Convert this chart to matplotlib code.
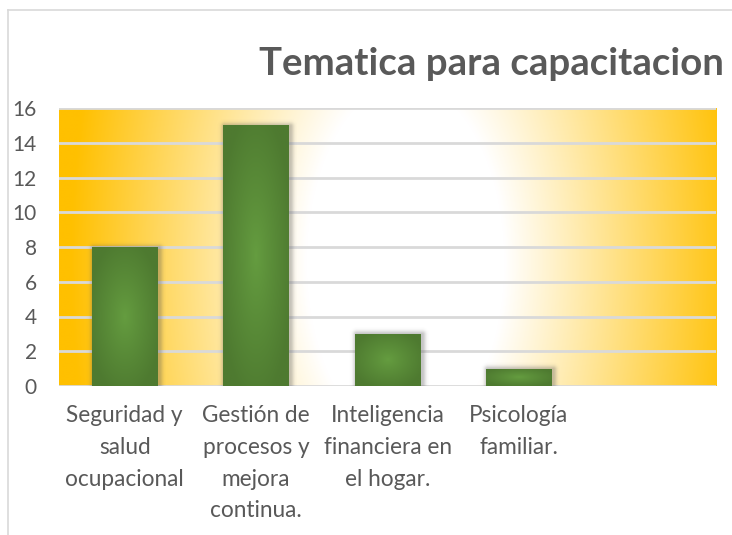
import numpy as np
import matplotlib
matplotlib.use("Agg")
import matplotlib.pyplot as plt
from matplotlib.lines import Line2D

# ---- data ----
categories = ["Seguridad y\nsalud\nocupacional",
              "Gestión de\nprocesos y\nmejora\ncontinua.",
              "Inteligencia\nfinanciera en\nel hogar.",
              "Psicología\nfamiliar."]
values = [8, 15, 3, 1]
yticks = [0, 2, 4, 6, 8, 10, 12, 14, 16]
title = "Tematica para capacitacion"
n_slots = 5  # chart has room for a fifth (empty) category

W, H = 732, 535
fig = plt.figure(figsize=(W / 100, H / 100), dpi=100)
fig.patch.set_facecolor("white")

# outer chart frame
fig.add_artist(Line2D([8 / W, 8 / W], [0, 1 - 10 / H], color="#d9d9d9", lw=1.2, transform=fig.transFigure))
fig.add_artist(Line2D([8 / W, 1], [1 - 10 / H, 1 - 10 / H], color="#d9d9d9", lw=1.2, transform=fig.transFigure))

L, R, T, B = 59, 716, 108, 386
ax = fig.add_axes([L / W, 1 - B / H, (R - L) / W, (B - T) / H])
ax.set_xlim(-0.5, n_slots - 0.5)
ax.set_ylim(0, 16)
for s in ax.spines.values():
    s.set_visible(False)

# background radial gradient (white center -> gold edges), computed in pixels
pw, ph = R - L, B - T
xx, yy = np.meshgrid(np.linspace(0, pw, 660), np.linspace(0, ph, 280))
cxp, cyp = 405 - L, B - 262
d = np.sqrt(((xx - cxp) / 310) ** 2 + ((yy - cyp) / 560) ** 2)
t = np.clip((d - 0.32) / (1.08 - 0.32), 0, 1)
white = np.array([1.0, 1.0, 1.0])
gold = np.array([255, 192, 0]) / 255
bg = white[None, None, :] * (1 - t[..., None]) + gold[None, None, :] * t[..., None]
ax.imshow(bg, extent=(0, 1, 0, 1), transform=ax.transAxes, aspect="auto",
          origin="lower", zorder=0, interpolation="bilinear")

# gridlines
ax.set_yticks(yticks)
ax.yaxis.grid(True, color="#d9d9d9", lw=2.0, zorder=1)
ax.set_axisbelow(True)

# bars
x = np.arange(len(values))
bars = ax.bar(x, values, width=0.5, color="#548235", zorder=3, linewidth=0)

px_x = pw / n_slots
px_y = ph / 16

for b in bars:
    bx, by, bw, bh = b.get_x(), b.get_y(), b.get_width(), b.get_height()
    # soft shadow
    pad = 8
    wpx, hpx = bw * px_x, bh * px_y
    sx = np.linspace(-pad, wpx + pad, int(wpx + 2 * pad) * 2)
    sy = np.linspace(-pad, hpx + pad, int(hpx + 2 * pad) * 2)
    SX, SY = np.meshgrid(sx, sy)
    ox, oy = 1.5, -1.0
    dx = np.maximum(np.maximum(0 - (SX - ox), (SX - ox) - wpx), 0)
    dy = np.maximum(np.maximum(0 - (SY - oy), (SY - oy) - hpx), 0)
    dist = np.sqrt(dx ** 2 + dy ** 2)
    alpha = 0.35 * np.exp(-(dist / 3.5) ** 2)
    sh = np.zeros(SX.shape + (4,))
    sh[..., :3] = 0.35
    sh[..., 3] = alpha
    ax.imshow(sh, extent=(bx - pad / px_x, bx + bw + pad / px_x, by - pad / px_y, by + bh + pad / px_y),
              origin="lower", aspect="auto", zorder=2.5, interpolation="bilinear")
    # inner elliptical gradient fitted to the bar
    gx, gy = np.meshgrid(np.linspace(-1, 1, 80), np.linspace(-1, 1, 200))
    r = np.clip(np.sqrt(gx ** 2 + gy ** 2) / 1.15, 0, 1) ** 0.9
    c_in = np.array([101, 157, 64]) / 255
    c_out = np.array([78, 122, 48]) / 255
    img = c_in[None, None, :] * (1 - r[..., None]) + c_out[None, None, :] * r[..., None]
    im = ax.imshow(img, extent=(bx, bx + bw, by, by + bh), origin="lower",
                   aspect="auto", zorder=3.5, interpolation="bilinear")
    im.set_clip_path(b)

ax.set_xlim(-0.5, n_slots - 0.5)
ax.set_ylim(0, 16)

# ticks
ax.set_xticks(x)
ax.set_xticklabels(categories, fontfamily="Lato", fontsize=16.3, color="#595959",
                   linespacing=1.62, va="top")
ax.tick_params(axis="x", length=0, pad=14)
ax.set_yticklabels([str(v) for v in yticks], fontfamily="Lato", fontsize=15, color="#595959")
ax.tick_params(axis="y", length=0, pad=16)

# title
fig.text(259 / W, 1 - 75 / H, title, fontfamily="Lato", fontweight="bold",
         fontsize=27.6, color="#595959", ha="left", va="baseline")

fig.savefig("out.png", dpi=100)
